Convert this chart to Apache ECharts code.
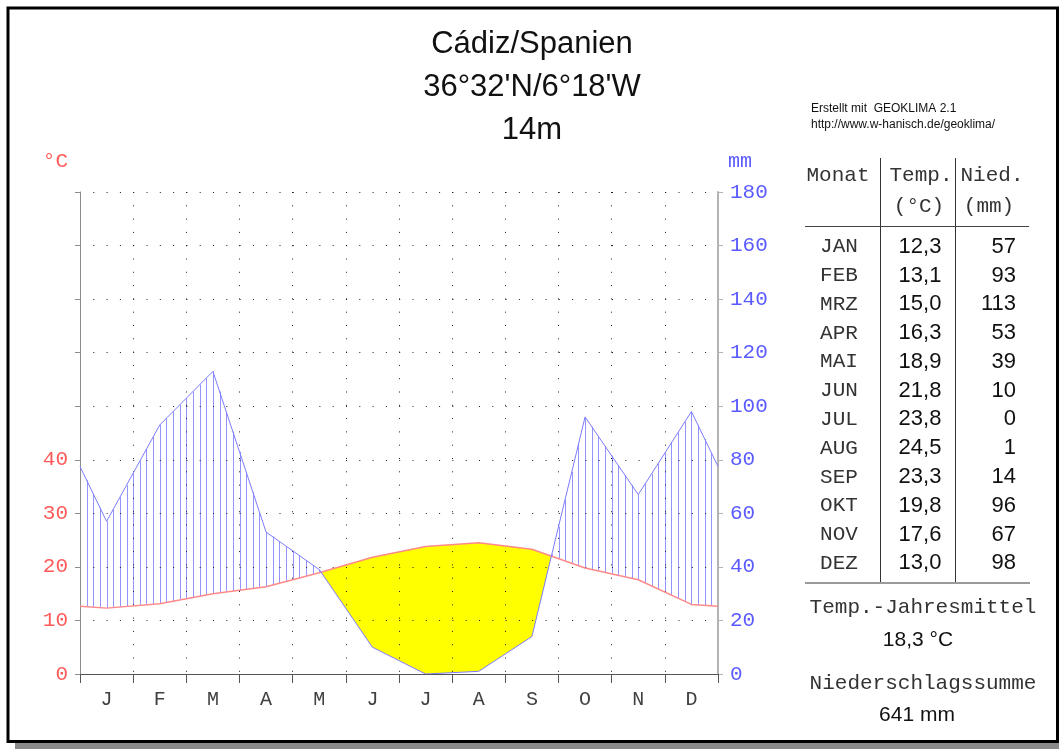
<!DOCTYPE html>
<html>
<head>
<meta charset="utf-8">
<script src="https://cdn.jsdelivr.net/npm/echarts@6/dist/echarts.min.js"></script>
<style>
html,body{margin:0;padding:0;background:#fff;}
#c{width:1059px;height:749px;}
</style>
</head>
<body>
<div id="c"></div>
<script>
// ---------------- data ----------------
const months = ['J','F','M','A','M','J','J','A','S','O','N','D'];
const monthNames = ['JAN','FEB','MRZ','APR','MAI','JUN','JUL','AUG','SEP','OKT','NOV','DEZ'];
const temps = [12.3, 13.1, 15.0, 16.3, 18.9, 21.8, 23.8, 24.5, 23.3, 19.8, 17.6, 13.0];
const precs = [57, 93, 113, 53, 39, 10, 0, 1, 14, 96, 67, 98];
const tempTickLabels = [0, 10, 20, 30, 40];
const precTickLabels = [0, 20, 40, 60, 80, 100, 120, 140, 160, 180];
const titleLines = ['Cádiz/Spanien', "36°32'N/6°18'W", '14m'];
const creditLines = ['Erstellt mit  GEOKLIMA 2.1', 'http://www.w-hanisch.de/geoklima/'];

// ---------------- derived ----------------
// climate-diagram convention: curve runs to the year edges with the Dec/Jan mean
function withEdges(v) {
  const e = (v[0] + v[v.length - 1]) / 2;
  return [[0, e]].concat(v.map((y, i) => [i + 0.5, y]), [[12, e]]);
}
const tLine = withEdges(temps);
const pLine = withEdges(precs);
const fmt1 = v => v.toFixed(1).replace('.', ',');
const meanT = temps.reduce((a, b) => a + b, 0) / temps.length;
const sumP = precs.reduce((a, b) => a + b, 0);

const hatchPerMonth = 8;
const chart = echarts.init(document.getElementById('c'), null, {renderer: 'canvas'});

function renderClimate(params, api) {
  const n = tLine.length;
  const X = [], TY = [], PY = [];
  for (let i = 0; i < n; i++) {
    const p = api.coord([pLine[i][0], pLine[i][1]]);
    X.push(p[0]); PY.push(p[1]);
    TY.push(chart.convertToPixel({yAxisIndex: 0}, tLine[i][1]));
  }
  const children = [];
  const poly = c => ({
    type: 'polygon',
    shape: {points: c.top.concat(c.bot.slice().reverse())},
    style: {fill: '#ffff00', stroke: null}
  });
  const d = i => PY[i] - TY[i]; // > 0 : temperature above precipitation (arid)
  let cur = null;
  for (let j = 0; j < n - 1; j++) {
    const da = d(j), db = d(j + 1);
    if (da > 0 && !cur) cur = {top: [[X[j], TY[j]]], bot: [[X[j], PY[j]]]};
    if (da > 0 && db > 0) {
      cur.top.push([X[j + 1], TY[j + 1]]);
      cur.bot.push([X[j + 1], PY[j + 1]]);
    } else if (da > 0 || db > 0) {
      const t = da / (da - db);
      const c = [X[j] + t * (X[j + 1] - X[j]), TY[j] + t * (TY[j + 1] - TY[j])];
      if (da > 0) {
        cur.top.push(c); cur.bot.push(c);
        children.push(poly(cur)); cur = null;
      } else {
        cur = {top: [c, [X[j + 1], TY[j + 1]]], bot: [c, [X[j + 1], PY[j + 1]]]};
      }
    }
  }
  if (cur) children.push(poly(cur));
  // humid hatching
  for (let k = 0; k <= 12 * hatchPerMonth; k++) {
    const xv = k / hatchPerMonth;
    const xp = api.coord([xv, 0])[0];
    let j = 0;
    while (j < n - 2 && X[j + 1] < xp) j++;
    const f = (xp - X[j]) / (X[j + 1] - X[j]);
    const ty = TY[j] + f * (TY[j + 1] - TY[j]);
    const py = PY[j] + f * (PY[j + 1] - PY[j]);
    if (ty - py > 1) {
      const xs = Math.round(xp) + 0.5;
      children.push({type: 'line', shape: {x1: xs, y1: ty, x2: xs, y2: py},
        style: {stroke: '#9494ff', lineWidth: 1}});
    }
  }
  return {type: 'group', children};
}

// ---------------- graphics (frame, titles, table) ----------------
const mono = 'Liberation Mono';
const sans = 'Liberation Sans';
const graphics = [];
graphics.push({type: 'rect', z: 100, shape: {x: 15, y: 743, width: 1044, height: 6}, style: {fill: '#8a8a8a'}});
graphics.push({type: 'rect', z: 100, shape: {x: 8, y: 8, width: 1049.5, height: 733.5}, style: {fill: null, stroke: '#000', lineWidth: 3}});
titleLines.forEach((t, i) => graphics.push({type: 'text', z: 100,
  style: {text: t, x: 532, y: 44 + i * 43, align: 'center', verticalAlign: 'middle',
    font: '31px "' + sans + '"', fill: '#111'}}));
creditLines.forEach((t, i) => graphics.push({type: 'text', z: 100,
  style: {text: t, x: 811, y: 109 + i * 16, align: 'left', verticalAlign: 'middle',
    font: '12px "' + sans + '"', fill: '#111'}}));
const monoText = (t, x, y, align) => ({type: 'text', z: 100,
  style: {text: t, x, y, align: align || 'center', verticalAlign: 'middle', font: '21px "' + mono + '"', fill: '#333'}});
const sansText = (t, x, y, align, size) => ({type: 'text', z: 100,
  style: {text: t, x, y, align: align || 'center', verticalAlign: 'middle', font: (size || 22) + 'px "' + sans + '"', fill: '#111'}});
graphics.push(monoText('Monat', 838, 175));
graphics.push(monoText('Temp.', 921, 175));
graphics.push(monoText('Nied.', 992, 175));
graphics.push(monoText('(°C)', 919, 206));
graphics.push(monoText('(mm)', 989, 206));
graphics.push({type: 'line', z: 100, shape: {x1: 880.5, y1: 158, x2: 880.5, y2: 582}, style: {stroke: '#333', lineWidth: 1}});
graphics.push({type: 'line', z: 100, shape: {x1: 955.5, y1: 158, x2: 955.5, y2: 582}, style: {stroke: '#333', lineWidth: 1}});
graphics.push({type: 'line', z: 100, shape: {x1: 805, y1: 226.5, x2: 1029, y2: 226.5}, style: {stroke: '#444', lineWidth: 1}});
graphics.push({type: 'line', z: 100, shape: {x1: 805, y1: 583, x2: 1030, y2: 583}, style: {stroke: '#9a9a9a', lineWidth: 2}});
monthNames.forEach((m, i) => {
  const y = 246.7 + i * 28.78;
  graphics.push(monoText(m, 839, y));
  graphics.push(sansText(fmt1(temps[i]), 920, y));
  graphics.push(sansText(String(precs[i]), 1016, y, 'right'));
});
graphics.push(monoText('Temp.-Jahresmittel', 923, 607));
graphics.push(sansText(fmt1(meanT) + ' °C', 918, 640, 'center', 21));
graphics.push(monoText('Niederschlagssumme', 923, 683));
graphics.push(sansText(sumP + ' mm', 917, 715, 'center', 21));

// ---------------- chart ----------------
const dotted = {color: '#1e1e1e', width: 1, type: [1, 12.3]};
const option = {
  backgroundColor: '#ffffff',
  animation: false,
  grid: {left: 80, right: 341, top: 192, bottom: 75, containLabel: false, outerBoundsMode: 'none'},
  xAxis: [
    {type: 'value', min: 0, max: 12, interval: 1,
      axisLine: {show: false}, axisTick: {show: false}, axisLabel: {show: false},
      splitLine: {show: true, showMinLine: false, showMaxLine: false, lineStyle: dotted}},
    {type: 'category', data: months, boundaryGap: true, position: 'bottom',
      axisLine: {show: true, lineStyle: {color: '#555', width: 1}},
      axisTick: {show: true, length: 9, lineStyle: {color: '#555'}},
      axisLabel: {color: '#404040', fontFamily: mono, fontSize: 20, margin: 16, interval: 0},
      splitLine: {show: false}}
  ],
  yAxis: [
    {type: 'value', min: 0, max: 90, interval: 10, position: 'left',
      name: '°C', nameLocation: 'end', nameGap: 20,
      nameTextStyle: {color: '#ff5a5a', fontFamily: mono, fontSize: 21, align: 'right', padding: [0, 12, 0, 0]},
      axisLine: {show: true, lineStyle: {color: '#8c8c8c', width: 1}},
      axisTick: {show: true, length: 5, lineStyle: {color: '#8c8c8c'}},
      axisLabel: {color: '#ff5a5a', fontFamily: mono, fontSize: 21, margin: 12,
        formatter: v => tempTickLabels.indexOf(v) >= 0 ? String(v) : ''},
      splitLine: {show: true, showMinLine: false, showMaxLine: true, lineStyle: dotted}},
    {type: 'value', min: 0, max: 180, interval: 20, position: 'right',
      name: 'mm', nameLocation: 'end', nameGap: 20,
      nameTextStyle: {color: '#5a5aff', fontFamily: mono, fontSize: 20, align: 'left', padding: [0, 0, 0, 10]},
      axisLine: {show: true, lineStyle: {color: '#b4b4b4', width: 2}},
      axisTick: {show: true, length: 5, lineStyle: {color: '#b4b4b4'}},
      axisLabel: {color: '#5a5aff', fontFamily: mono, fontSize: 21, margin: 12,
        formatter: v => precTickLabels.indexOf(v) >= 0 ? String(v) : ''},
      splitLine: {show: false}}
  ],
  series: [
    {type: 'custom', xAxisIndex: 0, yAxisIndex: 1, z: -1, silent: true, clip: false,
      renderItem: renderClimate, data: [[0, 0]]},
    {type: 'line', name: 'Temperatur', xAxisIndex: 0, yAxisIndex: 0, data: tLine,
      symbol: 'none', z: 3, silent: true, lineStyle: {color: '#ff8a8a', width: 1.5}},
    {type: 'line', name: 'Niederschlag', xAxisIndex: 0, yAxisIndex: 1, data: pLine,
      symbol: 'none', z: 3, silent: true, lineStyle: {color: '#7c7cff', width: 1}}
  ],
  graphic: graphics
};
chart.setOption(option);
</script>
</body>
</html>
